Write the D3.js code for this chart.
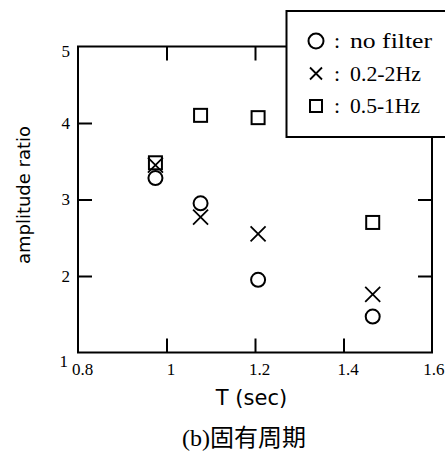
<!DOCTYPE html>
<html>
<head>
<meta charset="utf-8">
<script src="https://cdn.jsdelivr.net/npm/d3@7"></script>
<style>
  html, body { margin: 0; padding: 0; background: #fff; }
  svg { display: block; }
</style>
</head>
<body>
<svg id="chart" width="445" height="452"></svg>
<script>
// Natural period T (sec) of each case
const periods = [0.975, 1.077, 1.207, 1.466];
// Amplitude ratio for each filter setting
const noFilter = [3.28, 2.95, 1.95, 1.47];
const band02to2 = [3.45, 2.77, 2.55, 1.76];
const band05to1 = [3.48, 4.10, 4.07, 2.70];
// Axis ticks
const xTicks = [0.8, 1.0, 1.2, 1.4, 1.6];
const yTicks = [1, 2, 3, 4, 5];
// Legend entries
const legendLabels = ["no filter", "0.2-2Hz", "0.5-1Hz"];
const legendShapes = ["circle", "cross", "square"];

const svg = d3.select("#chart");
const plot = { left: 78, right: 432, top: 46.5, bottom: 352.5 };

const x = d3.scaleLinear().domain([0.8, 1.6]).range([plot.left, plot.right]);
const y = d3.scaleLinear().domain([1, 5]).range([plot.bottom, plot.top]);

const serif = "'Liberation Serif', 'Times New Roman', serif";
const sans = "'DejaVu Sans', Verdana, sans-serif";

// Inward-pointing ticks on all four sides
const tickLen = 14;
function styleAxis(g) {
  g.select(".domain").remove();
  g.selectAll(".tick line").attr("stroke", "#000").attr("stroke-width", 2);
  g.selectAll(".tick text")
    .attr("fill", "#000")
    .attr("font-family", serif)
    .attr("font-size", 17);
}

const fmt = d => d3.format("~g")(d);
const isEnd = v => d => d === v[0] || d === v[v.length - 1];

svg.append("g")
  .attr("transform", `translate(0,${plot.bottom})`)
  .call(d3.axisBottom(x).tickValues(xTicks).tickFormat(fmt).tickSize(-tickLen).tickPadding(10))
  .call(styleAxis)
  .call(g => g.selectAll(".tick text").attr("dx", 4))
  .call(g => g.selectAll(".tick").filter(d => d === 1.6).select("text")
    .attr("text-anchor", "end").attr("dx", 12))
  .call(g => g.selectAll(".tick").filter(isEnd(xTicks)).select("line").remove());

svg.append("g")
  .attr("transform", `translate(0,${plot.top})`)
  .call(d3.axisTop(x).tickValues(xTicks).tickFormat("").tickSize(-tickLen))
  .call(styleAxis)
  .call(g => g.selectAll(".tick").filter(isEnd(xTicks)).select("line").remove());

svg.append("g")
  .attr("transform", `translate(${plot.left},0)`)
  .call(d3.axisLeft(y).tickValues(yTicks).tickFormat(fmt).tickSize(-tickLen).tickPadding(8))
  .call(styleAxis)
  .call(g => g.selectAll(".tick").filter(isEnd(yTicks)).select("line").remove())
  .call(g => g.selectAll(".tick").filter(d => d === 5).select("text").attr("dy", "0.6em"))
  .call(g => g.selectAll(".tick").filter(d => d === 1).select("text").attr("dy", "0.85em").attr("dx", -2));

svg.append("g")
  .attr("transform", `translate(${plot.right},0)`)
  .call(d3.axisRight(y).tickValues(yTicks).tickFormat("").tickSize(-tickLen))
  .call(styleAxis)
  .call(g => g.selectAll(".tick").filter(isEnd(yTicks)).select("line").remove());

// Frame
svg.append("rect")
  .attr("x", plot.left).attr("y", plot.top)
  .attr("width", plot.right - plot.left).attr("height", plot.bottom - plot.top)
  .attr("fill", "none").attr("stroke", "#000").attr("stroke-width", 2);

// Marker drawing helpers
function drawMarker(sel, shape, size) {
  const h = size / 2;
  if (shape === "circle") {
    sel.append("circle").attr("r", h).attr("fill", "none")
      .attr("stroke", "#000").attr("stroke-width", 2);
  } else if (shape === "square") {
    sel.append("rect").attr("x", -h).attr("y", -h).attr("width", size).attr("height", size)
      .attr("fill", "none").attr("stroke", "#000").attr("stroke-width", 2);
  } else {
    sel.append("path").attr("d", `M${-h},${-h}L${h},${h}M${-h},${h}L${h},${-h}`)
      .attr("fill", "none").attr("stroke", "#000").attr("stroke-width", 1.8);
  }
}

const seriesList = [
  { values: noFilter, shape: "circle", size: 14 },
  { values: band02to2, shape: "cross", size: 15 },
  { values: band05to1, shape: "square", size: 13 }
];

seriesList.forEach(s => {
  svg.append("g").selectAll("g")
    .data(periods.map((t, i) => ({ t, v: s.values[i] })))
    .join("g")
    .attr("transform", d => `translate(${x(d.t)},${y(d.v)})`)
    .each(function () { drawMarker(d3.select(this), s.shape, s.size); });
});

// Legend box (runs past the right edge)
const legend = svg.append("g");
legend.append("rect")
  .attr("x", 286.5).attr("y", 11).attr("width", 175).attr("height", 126)
  .attr("fill", "#fff").attr("stroke", "#000").attr("stroke-width", 2);

const labelWidths = [82, 71, 70];
legendLabels.forEach((label, i) => {
  const cy = 41 + i * 32.5;
  const row = legend.append("g");
  const m = row.append("g").attr("transform", `translate(316,${cy})`);
  drawMarker(m, legendShapes[i], legendShapes[i] === "circle" ? 15 : 12);
  row.append("text")
    .attr("x", 334).attr("y", cy + 7)
    .attr("font-family", serif).attr("font-size", 22)
    .text(":");
  row.append("text")
    .attr("x", 350).attr("y", cy + 7)
    .attr("font-family", serif).attr("font-size", 22)
    .attr("textLength", labelWidths[i]).attr("lengthAdjust", "spacingAndGlyphs")
    .text(label);
});

// Axis titles
svg.append("text")
  .attr("transform", `translate(30,195) rotate(-90)`)
  .attr("text-anchor", "middle")
  .attr("font-family", sans).attr("font-size", 18)
  .text("amplitude ratio");

svg.append("text")
  .attr("x", 251.5).attr("y", 405)
  .attr("text-anchor", "middle")
  .attr("font-family", sans).attr("font-size", 21)
  .text("T (sec)");

// Caption
svg.append("text")
  .attr("x", 244).attr("y", 446)
  .attr("text-anchor", "middle")
  .attr("font-family", "'Liberation Serif', 'Noto Sans CJK JP', serif").attr("font-size", 24)
  .text("(b)固有周期");
</script>
</body>
</html>
